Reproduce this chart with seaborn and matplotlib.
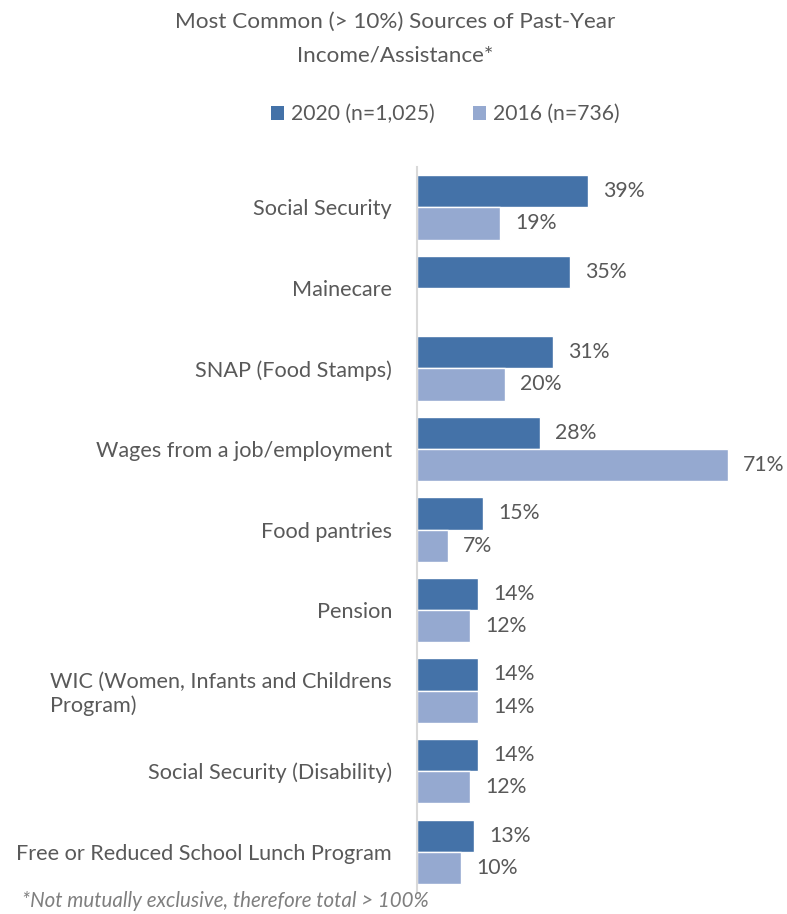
import numpy as np
import pandas as pd
import matplotlib
matplotlib.use("Agg")
import matplotlib.pyplot as plt
from matplotlib.patches import Patch
import seaborn as sns

categories = [
    "Social Security",
    "Mainecare",
    "SNAP (Food Stamps)",
    "Wages from a job/employment",
    "Food pantries",
    "Pension",
    "WIC (Women, Infants and Childrens\nProgram)",
    "Social Security (Disability)",
    "Free or Reduced School Lunch Program",
]
values_2020 = [39, 35, 31, 28, 15, 14, 14, 14, 13]
values_2016 = [19, np.nan, 20, 71, 7, 12, 14, 12, 10]
series_names = ["2020 (n=1,025)", "2016 (n=736)"]
colors = ["#4472A8", "#95A9D0"]
title_lines = ["Most Common (> 10%) Sources of Past-Year", "Income/Assistance*"]

df = pd.DataFrame({
    "category": categories * 2,
    "value": values_2020 + values_2016,
    "series": [series_names[0]] * len(categories) + [series_names[1]] * len(categories),
})

sns.set_theme(style="white")
plt.rcParams["font.family"] = ["Lato", "DejaVu Sans"]
text_color = "#595959"

fig = plt.figure(figsize=(7.87, 9.14), dpi=100)
ax = fig.add_axes([417 / 787, 1 - 892 / 914, 1 - 417 / 787, (892 - 167) / 914])

sns.barplot(
    data=df, x="value", y="category", hue="series", order=categories,
    hue_order=series_names, palette=colors, orient="h", width=0.8,
    saturation=1, ax=ax, legend=False, errorbar=None,
)

# value labels at the end of each bar
for container in ax.containers:
    for bar in container:
        if bar is None:
            continue
        w = bar.get_width()
        if not np.isfinite(w) or w == 0:
            continue
        yc = bar.get_y() + bar.get_height() / 2
        ax.annotate(f"{w:.0f}%", (w, yc), xytext=(11, 0), textcoords="offset points",
                    ha="left", va="center", fontsize=15.3, color=text_color)

ax.set_xlim(0, 84.5)
ax.set_ylim(len(categories) - 0.5, -0.5)
ax.set_xlabel("")
ax.set_ylabel("")
ax.set_xticks([])
ax.tick_params(axis="y", length=0, pad=18, labelsize=15.6, labelcolor=text_color)
for lbl in ax.get_yticklabels():
    lbl.set_horizontalalignment("right")
    lbl.set_multialignment("left")
for side in ["top", "right", "bottom"]:
    ax.spines[side].set_visible(False)
ax.spines["left"].set_color("#D9D9D9")
ax.spines["left"].set_linewidth(1.5)

# two-line title
for line, ypix in zip(title_lines, [22, 56]):
    fig.text(395 / 787, 1 - ypix / 914, line, ha="center", va="center",
             fontsize=16.2, color=text_color)

handles = [Patch(facecolor=c, edgecolor="none") for c in colors]
fig.legend(handles, series_names, loc="center", bbox_to_anchor=(445 / 787, 1 - 114 / 914),
           ncol=2, frameon=False, fontsize=15.2, labelcolor=text_color,
           handlelength=0.65, handleheight=0.65, handletextpad=0.3, columnspacing=1.8)

fig.text(22 / 787, 1 - 901 / 914, "*Not mutually exclusive, therefore total > 100%",
         ha="left", va="center", fontsize=14.8, color="#7F7F7F", style="italic")

fig.savefig("out.png", dpi=100)
